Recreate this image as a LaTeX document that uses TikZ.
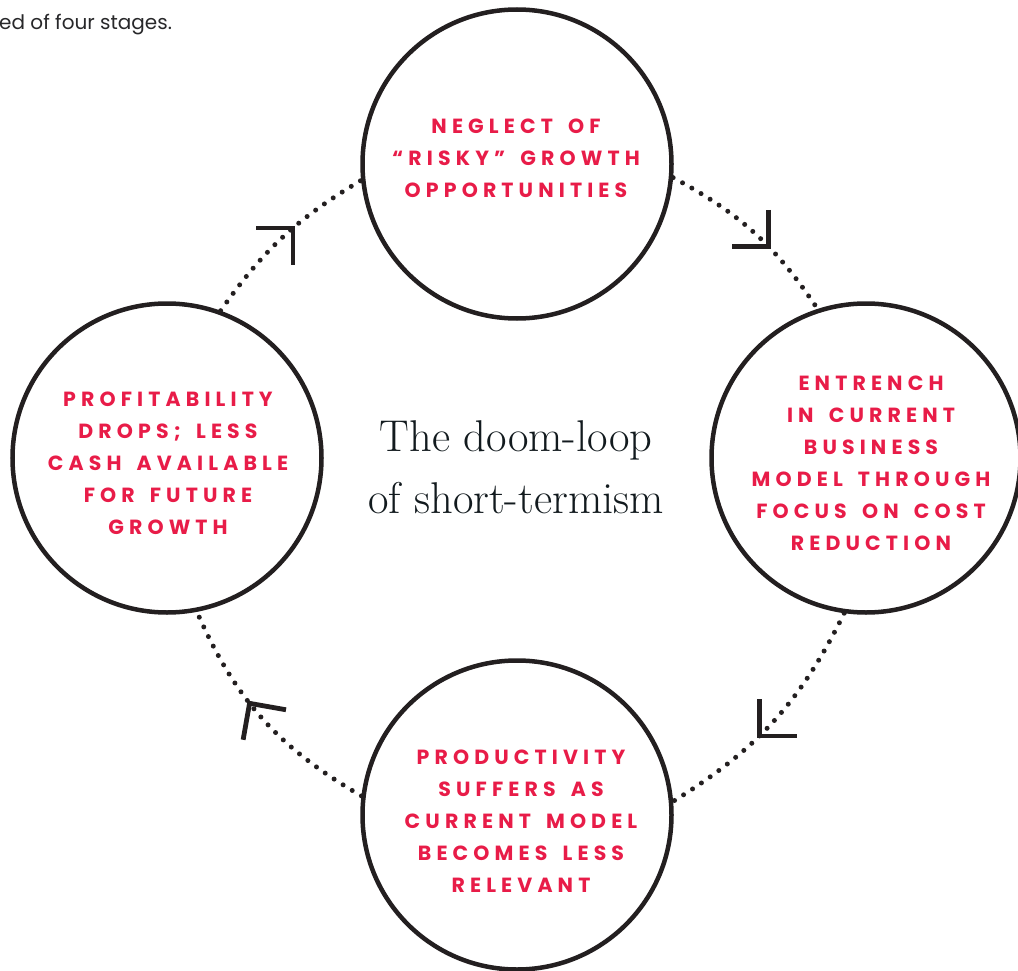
\documentclass[tikz,border=0pt]{standalone}
\usepackage{fontspec}
\usetikzlibrary{decorations.markings}
\newfontfamily\stagefont{Poppins}[LetterSpace=25, WordSpace=1.6]
\newfontfamily\notefont{Poppins}
\definecolor{loopred}{RGB}{232,28,72}
\definecolor{ink}{RGB}{35,31,32}
\definecolor{titleink}{RGB}{18,26,30}
\definecolor{noteink}{RGB}{40,40,42}
\begin{document}
\begin{tikzpicture}[x=1pt,y=1pt,
  stage/.style={circle, draw=ink, line width=4.5pt, minimum size=309pt, inner sep=0pt},
  stagetext/.style={text=loopred, align=center, inner sep=0pt,
    font=\stagefont\bfseries\fontsize{20.5}{32}\selectfont},
  % dotted arc with a right-angled chevron; #1 = position, #2 = heading of the chevron
  loopflow/.style 2 args={draw=ink, line width=5pt, line cap=round,
    dash pattern=on 0pt off 10.7pt,
    decoration={markings, mark=at position #1 with {
      \pgftransformresetnontranslations
      \draw[ink, solid, line width=4.8pt, line cap=butt, line join=miter]
        (#2+135:37) -- (0,0) -- (#2+225:37);}},
    postaction={decorate}}
]
\useasboundingbox (0,0) rectangle (1018,-971);

% lead-in sentence, cut at the left edge
\node[anchor=base west, inner sep=0pt, text=noteink,
  font=\notefont\fontsize{20}{24}\selectfont] (note) at (-1,-30) {ed of four stages.};

% the four stages of the loop
\node[stage] (top)    at (517,-164) {};
\node[stage] (right)  at (866,-458) {};
\node[stage] (bottom) at (517,-815) {};
\node[stage] (left)   at (167,-458) {};

\node[stagetext] (toptext)    at (516,-158) {NEGLECT OF\\“RISKY” GROWTH\\OPPORTUNITIES};
\node[stagetext] (righttext)  at (871,-463) {ENTRENCH\\IN CURRENT\\BUSINESS\\MODEL THROUGH\\FOCUS ON COST\\REDUCTION};
\node[stagetext] (bottomtext) at (521,-821) {PRODUCTIVITY\\SUFFERS AS\\CURRENT MODEL\\BECOMES LESS\\RELEVANT};
\node[stagetext] (lefttext)   at (168,-463) {PROFITABILITY\\DROPS; LESS\\CASH AVAILABLE\\FOR FUTURE\\GROWTH};

% title in the middle
\node[align=center, inner sep=0pt, text=titleink,
  font=\fontsize{44.5}{62}\selectfont] (title) at (516,-467) {The doom-loop\\of short-termism};

% dotted arcs running clockwise
\draw[loopflow={0.60}{-45}] (top.-5.8)    to[bend left=14] (right.108.4);
\draw[loopflow={0.58}{225}] (right.-98.3) to[bend left=16] (bottom.5.4);
\draw[loopflow={0.58}{125}] (bottom.173)  to[bend left=18] (left.-79.5);
\draw[loopflow={0.57}{45}]  (left.70.2)   to[bend left=12] (top.186.7);
\end{tikzpicture}
\end{document}
